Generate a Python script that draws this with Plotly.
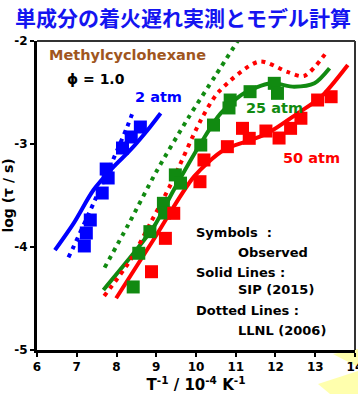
import plotly.graph_objects as go

# ---------------- data ----------------
blue_obs_x = [8.60, 8.37, 8.15, 7.74, 7.79, 7.64, 7.34, 7.24, 7.19]
blue_obs_y = [-2.835, -2.932, -3.039, -3.243, -3.330, -3.476, -3.738, -3.864, -3.990]
blue_sip_x = [6.45, 6.92, 7.42, 7.93, 8.35, 8.85, 9.11]
blue_sip_y = [-4.03, -3.77, -3.447, -3.22, -3.058, -2.832, -2.702]
blue_llnl_x = [6.79, 6.92, 7.42, 7.91, 8.27, 8.43]
blue_llnl_y = [-4.10, -3.997, -3.576, -3.155, -2.832, -2.67]

green_obs_x = [8.42, 8.56, 8.84, 9.18, 9.21, 9.48, 9.61, 10.12, 10.44, 10.86, 10.83, 11.36, 11.97, 12.05]
green_obs_y = [-4.388, -4.061, -3.851, -3.576, -3.67, -3.30, -3.38, -3.01, -2.816, -2.573, -2.65, -2.492, -2.411, -2.508]
green_sip_x = [7.67, 8.43, 8.94, 9.44, 10.12, 10.62, 11.21, 11.88, 12.47, 12.98, 13.36]
green_sip_y = [-4.417, -4.061, -3.803, -3.447, -2.993, -2.702, -2.508, -2.411, -2.444, -2.411, -2.265]
green_llnl_x = [7.70, 8.30, 9.00, 9.80, 10.50, 11.05]
green_llnl_y = [-4.20, -3.78, -3.27, -2.75, -2.33, -2.00]

red_obs_x = [8.88, 9.23, 9.44, 10.10, 10.20, 10.79, 11.17, 11.34, 11.76, 12.09, 12.38, 12.64, 13.06, 13.40]
red_obs_y = [-4.240, -3.916, -3.673, -3.366, -3.155, -3.026, -2.848, -2.945, -2.874, -2.942, -2.848, -2.750, -2.573, -2.541]
red_sip_x = [7.99, 8.93, 9.95, 10.70, 11.38, 11.80, 12.56, 13.15, 13.82]
red_sip_y = [-4.498, -3.93, -3.317, -3.058, -2.961, -2.896, -2.702, -2.541, -2.233]
red_llnl_x = [7.69, 8.35, 8.85, 9.38, 10.12, 10.58, 11.59, 12.30, 12.72, 13.30]
red_llnl_y = [-4.476, -4.126, -3.77, -3.38, -2.77, -2.49, -2.20, -2.30, -2.34, -2.10]

x_ticks = [6, 7, 8, 9, 10, 11, 12, 13, 14]
y_ticks = [-2, -3, -4, -5]

BLUE = "#0000FF"
GREEN = "#118A11"
RED = "#FF0000"
FONT = "DejaVu Sans"

fig = go.Figure()

series = [
    (blue_sip_x, blue_sip_y, blue_llnl_x, blue_llnl_y, blue_obs_x, blue_obs_y, BLUE),
    (green_sip_x, green_sip_y, green_llnl_x, green_llnl_y, green_obs_x, green_obs_y, GREEN),
    (red_sip_x, red_sip_y, red_llnl_x, red_llnl_y, red_obs_x, red_obs_y, RED),
]

for sx, sy, lx, ly, ox, oy, c in series:
    fig.add_trace(go.Scatter(x=lx, y=ly, mode="lines",
                             line=dict(color=c, width=4, dash="4px,5px", shape="spline", smoothing=0.8),
                             showlegend=False, hoverinfo="skip"))
    fig.add_trace(go.Scatter(x=sx, y=sy, mode="lines",
                             line=dict(color=c, width=4, shape="spline", smoothing=0.8),
                             showlegend=False, hoverinfo="skip"))
for sx, sy, lx, ly, ox, oy, c in series:
    fig.add_trace(go.Scatter(x=ox, y=oy, mode="markers",
                             marker=dict(symbol="square", size=13, color=c,
                                         line=dict(width=0)),
                             showlegend=False))

def txt(x, y, s, color="black", size=14):
    fig.add_annotation(x=x, y=y, xref="x", yref="y", text="<b>" + s + "</b>",
                       showarrow=False, xanchor="left", yanchor="middle",
                       font=dict(family=FONT, size=size, color=color))

txt(6.25, -2.14, "Methylcyclohexane", "#A0561E", 14.5)
txt(6.7, -2.37, "ϕ = 1.0", "black", 14)
txt(8.42, -2.545, "2 atm", BLUE, 14.5)
txt(11.2, -2.65, "25 atm", GREEN, 14.5)
txt(12.14, -3.136, "50 atm", RED, 14.5)
txt(9.94, -3.864, "Symbols&nbsp;&nbsp;:", "black", 13)
txt(11.0, -4.049, "Observed", "black", 13)
txt(9.94, -4.243, "Solid Lines :", "black", 13)
txt(11.0, -4.417, "SIP (2015)", "black", 13)
txt(9.94, -4.612, "Dotted Lines :", "black", 13)
txt(11.0, -4.806, "LLNL (2006)", "black", 13)

L, R, T, B = 37, 3, 41, 44
W, H = 358, 394
pw, ph = W - L - R, H - T - B

def px_to_paper(px, py):
    return ((px - L) / pw, (H - B - py) / ph)

tx, ty = px_to_paper(183, 17)
fig.add_annotation(x=tx, y=ty, xref="paper", yref="paper",
                   text="<b>単成分の着火遅れ実測とモデル計算</b>", showarrow=False,
                   xanchor="center", yanchor="middle",
                   font=dict(family="Noto Sans CJK JP", size=21, color="#1414F0"))

# decorative yellow rays at bottom right
def wedge(pts):
    p = [px_to_paper(*q) for q in pts]
    path = "M " + " L ".join(f"{a:.4f},{b:.4f}" for a, b in p) + " Z"
    fig.add_shape(type="path", path=path, xref="paper", yref="paper",
                  fillcolor="#FFFF99", line=dict(width=0), layer="below", opacity=0.8)

wedge([(333, 354), (358, 349), (358, 367)])
wedge([(318, 384), (358, 371), (358, 394), (330, 394)])

# box top/right
fig.add_shape(type="line", xref="paper", yref="paper", x0=0, x1=1, y0=1, y1=1,
              line=dict(color="#333333", width=2))
fig.add_shape(type="line", xref="paper", yref="paper", x0=1, x1=1, y0=0, y1=1,
              line=dict(color="#333333", width=2))

fig.update_xaxes(range=[5.999, 14.001], tickvals=x_ticks, ticktext=[f"<b>{v}</b>" for v in x_ticks],
                 showline=True, linecolor="black", linewidth=3, ticks="outside",
                 ticklen=4, tickwidth=2, tickcolor="black", showgrid=False, zeroline=False,
                 ticklabeloverflow="allow", automargin=False,
                 tickfont=dict(family=FONT, size=12, color="black"),
                 title=dict(text="<b>T<sup>-1</sup> / 10<sup>-4</sup> K<sup>-1</sup></b>",
                            font=dict(family=FONT, size=15, color="black"), standoff=4))
fig.update_yaxes(range=[-5, -2], tickvals=y_ticks, ticktext=[f"<b>{v}</b>" for v in y_ticks],
                 showline=True, linecolor="black", linewidth=3, ticks="outside",
                 ticklen=4, tickwidth=2, tickcolor="black", showgrid=False, zeroline=False,
                 automargin=False,
                 tickfont=dict(family=FONT, size=12, color="black"),
                 title=dict(text="<b>log (τ / s)</b>",
                            font=dict(family=FONT, size=14, color="black"), standoff=2))

fig.update_layout(width=W, height=H, margin=dict(l=L, r=R, t=T, b=B),
                  paper_bgcolor="white", plot_bgcolor="white", showlegend=False)

fig.write_html("out.html", config={"displayModeBar": False},
               post_script="document.body.style.margin='0';document.body.style.overflow='hidden';")
